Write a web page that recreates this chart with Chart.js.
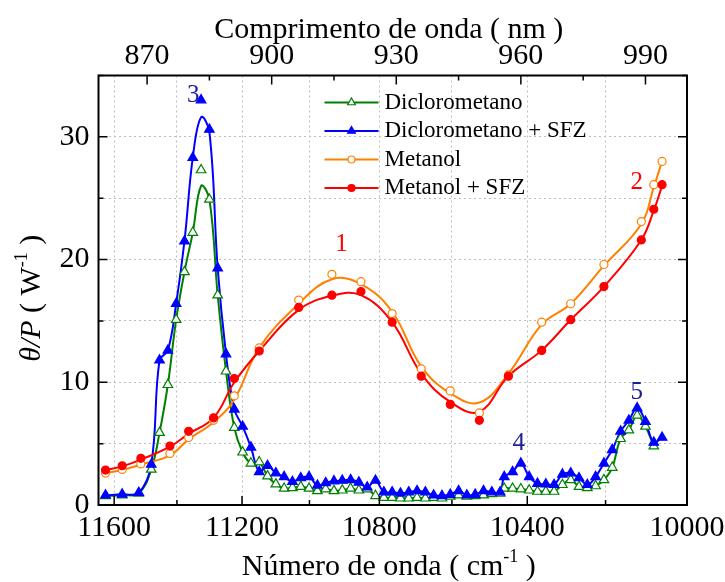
<!DOCTYPE html>
<html>
<head>
<meta charset="utf-8">
<script src="https://cdn.jsdelivr.net/npm/chart.js@4.4.1/dist/chart.umd.min.js"></script>
<style>
  html, body { margin: 0; padding: 0; background: #fff; }
</style>
</head>
<body>
<canvas id="spectra" width="725" height="582"></canvas>
<script>
// dichloromethane runs: wavelength grid (nm)
const dcmNm = [860, 864, 868,
  871, 873, 875, 877, 879, 881, 883, 885, 887, 889, 891, 893, 895, 897, 899, 901, 903, 905, 907, 909,
  911, 913, 915, 917, 919, 921, 923, 925, 927, 929, 931, 933, 935, 937, 939, 941, 943, 945, 947, 949,
  951, 953, 955,
  956, 958, 960, 962, 964, 966, 968, 970, 972, 974, 976, 978, 980, 982, 984, 986, 988, 990, 992, 994];

const dcm = [0.75, 0.8, 0.95,
  2.9, 5.9, 9.8, 15.1, 19.0, 22.2, 27.3, 24.9, 17.1, 10.9, 6.3, 4.3, 3.4, 3.5, 2.35, 1.7, 1.35, 1.4, 1.5, 1.35,
  1.15, 1.3, 1.15, 1.2, 1.35, 1.2, 1.3, 0.75, 0.6, 0.6, 0.55, 0.55, 0.6, 0.55, 0.6, 0.55, 0.7, 0.8, 0.7, 0.75,
  0.8, 0.9, 0.95,
  1.35, 1.35, 1.3, 1.2, 1.1, 1.1, 1.1, 1.65, 2.05, 1.5, 1.4, 1.55, 2.05, 3.05, 5.4, 6.1, 7.3, 6.4, 4.8];

const dcmCurve = [0.75, 0.8, 0.95,
  2.9, 5.9, 9.8, 15.1, 19.0, 22.2, 26.0, 24.9, 17.1, 10.9, 6.3, 4.3, 3.4, 3.5, 2.35, 1.7, 1.35, 1.4, 1.5, 1.35,
  1.15, 1.3, 1.15, 1.2, 1.35, 1.2, 1.3, 0.75, 0.6, 0.6, 0.55, 0.55, 0.6, 0.55, 0.6, 0.55, 0.7, 0.8, 0.7, 0.75,
  0.8, 0.9, 0.95,
  1.35, 1.35, 1.3, 1.2, 1.1, 1.1, 1.1, 1.65, 2.05, 1.5, 1.4, 1.55, 2.05, 3.05, 5.4, 6.1, 7.3, 6.4, 4.8];

const dcmSfz = [0.8, 0.87, 1.0,
  3.3, 11.8, 12.6, 16.4, 21.5, 28.3, 33.0, 30.6, 19.3, 12.3, 7.8, 6.4, 4.7, 2.7, 3.2, 2.6, 2.3, 1.9, 2.2, 2.3,
  1.6, 1.8, 1.95, 2.0, 2.05, 1.85, 1.45, 2.0, 1.05, 1.05, 0.95, 1.05, 1.15, 1.05, 0.8, 0.75, 0.85, 1.15, 0.8, 0.85,
  1.15, 1.05, 1.05,
  2.3, 2.7, 3.4, 2.3, 1.75, 1.7, 1.65, 2.5, 2.6, 2.2, 1.65, 2.3, 3.4, 4.5, 6.0, 6.9, 7.9, 6.8, 5.1, 5.5];

const dcmSfzCurve = [0.8, 0.87, 1.0,
  3.3, 11.8, 12.6, 16.4, 21.5, 28.3, 31.6, 30.4, 19.3, 12.3, 7.8, 6.4, 4.7, 2.7, 3.2, 2.6, 2.3, 1.9, 2.2, 2.3,
  1.6, 1.8, 1.95, 2.0, 2.05, 1.85, 1.45, 2.0, 1.05, 1.05, 0.95, 1.05, 1.15, 1.05, 0.8, 0.75, 0.85, 1.15, 0.8, 0.85,
  1.15, 1.05, 1.05,
  2.3, 2.7, 3.4, 2.3, 1.75, 1.7, 1.65, 2.5, 2.6, 2.2, 1.65, 2.3, 3.4, 4.5, 6.0, 6.9, 7.9, 6.8, 5.1, 5.5];

// methanol runs
const metNm = [860, 864, 868.5, 875.5, 880, 886, 891, 897, 906.5, 914.5, 921.5,
  929, 936, 943, 950, 957, 965, 972, 980, 989, 992, 994];
const met = [2.6, 2.9, 3.35, 4.2, 5.5, 6.9, 8.9, 12.8, 16.7, 18.8, 18.2,
  15.6, 11.1, 9.3, 7.5, 10.6, 14.9, 16.4, 19.6, 23.1, 26.1, 28.0];
const metCurve = [2.6, 2.85, 3.3, 4.05, 5.35, 6.75, 8.6, 12.8, 16.4, 18.4, 18.0,
  15.75, 11.3, 9.1, 8.35, 10.7, 14.7, 16.4, 19.5, 22.9, 25.9, 28.0];
const metSfz = [2.85, 3.2, 3.8, 4.8, 6.0, 7.1, 10.3, 12.55, 16.1, 17.1, 17.4,
  14.9, 10.5, 8.2, 6.9, 10.5, 12.6, 15.1, 17.8, 21.6, 24.1, 26.1];
const metSfzCurve = [2.85, 3.15, 3.7, 4.75, 5.8, 7.1, 10.0, 12.55, 15.9, 17.05, 17.1,
  14.9, 10.7, 8.4, 7.6, 10.5, 12.6, 15.1, 17.8, 21.6, 24.0, 26.0];

// axes
const nmMin = 858.3, nmMax = 1000;
const wnTicks = [11600, 11400, 11200, 11000, 10800, 10600, 10400, 10200, 10000];
const nmTicks = [870, 885, 900, 915, 930, 945, 960, 975, 990];
const yTicks = [0, 5, 10, 15, 20, 25, 30, 35];

const GREEN = '#008000', BLUE = '#0000ff', ORANGE = '#ff8000', RED = '#ff0000', NAVY = '#1c1c99';
const SERIF = '"Liberation Serif", "Times New Roman", serif';

const xy = (xs, ys) => ys.map((v, i) => ({ x: xs[i], y: v }));

function curve(data, color) {
    return {
        type: 'line', data, borderColor: color, borderWidth: 2,
        pointRadius: 0, tension: 0.4, fill: false, order: 2
    };
}

function marks(data, color, style, filled, r) {
    return {
        type: 'line', data, showLine: false, pointStyle: style, pointRadius: r,
        pointBorderColor: color, pointBackgroundColor: filled ? color : '#fff',
        pointBorderWidth: 1.2, order: 1
    };
}

// little helpers for the plugin
function drawMarker(ctx, style, x, y, r, color, filled) {
    ctx.beginPath();
    if (style === 'triangle') {
        ctx.moveTo(x, y - r);
        ctx.lineTo(x + r * 0.866, y + r * 0.5);
        ctx.lineTo(x - r * 0.866, y + r * 0.5);
        ctx.closePath();
    } else {
        ctx.arc(x, y, r, 0, Math.PI * 2);
    }
    ctx.fillStyle = filled ? color : '#fff';
    ctx.fill();
    ctx.lineWidth = 1.2;
    ctx.strokeStyle = color;
    ctx.stroke();
}

function richText(ctx, parts, cx, baseline) {
    let w = 0;
    parts.forEach(p => { ctx.font = p.font; w += ctx.measureText(p.t).width; });
    let x = cx - w / 2;
    parts.forEach(p => {
        ctx.font = p.font;
        ctx.fillText(p.t, x, baseline + (p.dy || 0));
        x += ctx.measureText(p.t).width;
    });
}

const legendRows = [
    { label: 'Diclorometano', color: GREEN, style: 'triangle', filled: false, r: 4.5 },
    { label: 'Diclorometano + SFZ', color: BLUE, style: 'triangle', filled: true, r: 4.5 },
    { label: 'Metanol', color: ORANGE, style: 'circle', filled: false, r: 3.5 },
    { label: 'Metanol + SFZ', color: RED, style: 'circle', filled: true, r: 3.5 }
];

const peakTags = [
    { t: '1', nm: 916.8, v: 21.2, color: RED },
    { t: '2', nm: 987.9, v: 26.3, color: RED },
    { t: '3', nm: 881.1, v: 33.4, color: NAVY },
    { t: '4', nm: 959.5, v: 5.0, color: NAVY },
    { t: '5', nm: 987.9, v: 9.2, color: NAVY }
];

const framePlugin = {
    id: 'frame',
    afterDraw(chart) {
        const { ctx, chartArea: a, scales } = chart;
        const xb = scales.x, xt = scales.xTop, y = scales.y;
        ctx.save();

        // inward tick marks on all four sides
        ctx.strokeStyle = '#000';
        ctx.lineWidth = 1.5;
        ctx.beginPath();
        wnTicks.forEach(w => {
            const px = xb.getPixelForValue(1e7 / w);
            const len = w % 400 === 0 ? 9 : 5;
            ctx.moveTo(px, a.bottom); ctx.lineTo(px, a.bottom - len);
        });
        nmTicks.forEach(n => {
            const px = xt.getPixelForValue(n);
            const len = n % 30 === 0 ? 9 : 5;
            ctx.moveTo(px, a.top); ctx.lineTo(px, a.top + len);
        });
        yTicks.forEach(v => {
            const py = y.getPixelForValue(v);
            const len = v % 10 === 0 ? 9 : 5;
            ctx.moveTo(a.left, py); ctx.lineTo(a.left + len, py);
            ctx.moveTo(a.right, py); ctx.lineTo(a.right - len, py);
        });
        ctx.stroke();
        ctx.lineWidth = 2;
        ctx.strokeRect(a.left, a.top, a.right - a.left, a.bottom - a.top);

        // axis titles
        ctx.fillStyle = '#000';
        ctx.textBaseline = 'alphabetic';
        ctx.textAlign = 'left';
        const big = '30px ' + SERIF, sup = '18px ' + SERIF;
        richText(ctx, [{ t: 'Número de onda ( cm', font: big }, { t: '-1', font: sup, dy: -13 }, { t: ' )', font: big }],
            (a.left + a.right) / 2 - 4, 575);
        richText(ctx, [{ t: 'Comprimento de onda ( nm )', font: big }], (a.left + a.right) / 2 - 4, 38);
        ctx.save();
        ctx.translate(40, (a.top + a.bottom) / 2 + 8);
        ctx.rotate(-Math.PI / 2);
        richText(ctx, [{ t: 'θ/P', font: 'italic ' + big }, { t: ' ( W', font: big },
            { t: '-1', font: sup, dy: -13 }, { t: ' )', font: big }], 0, 0);
        ctx.restore();

        // legend
        ctx.font = '23px ' + SERIF;
        ctx.textBaseline = 'middle';
        legendRows.forEach((row, i) => {
            const ly = a.top + 27 + i * 28.5;
            const lx = a.left + 226;
            ctx.strokeStyle = row.color;
            ctx.lineWidth = 2;
            ctx.beginPath(); ctx.moveTo(lx, ly); ctx.lineTo(lx + 54, ly); ctx.stroke();
            drawMarker(ctx, row.style, lx + 27, ly, row.r, row.color, row.filled);
            ctx.fillStyle = '#000';
            ctx.fillText(row.label, lx + 60, ly);
        });

        // peak numbers
        ctx.font = '25px ' + SERIF;
        ctx.textAlign = 'center';
        peakTags.forEach(p => {
            ctx.fillStyle = p.color;
            ctx.fillText(p.t, xb.getPixelForValue(p.nm), y.getPixelForValue(p.v));
        });
        ctx.restore();
    }
};

Chart.defaults.font.family = SERIF;
Chart.defaults.color = '#000';

new Chart(document.getElementById('spectra'), {
    type: 'line',
    data: {
        datasets: [
            curve(xy(metNm, metSfzCurve), RED),
            curve(xy(metNm, metCurve), ORANGE),
            curve(xy(dcmNm, dcmSfzCurve), BLUE),
            curve(xy(dcmNm, dcmCurve), GREEN),
            marks(xy(metNm, metSfz), RED, 'circle', true, 4),
            marks(xy(metNm, met), ORANGE, 'circle', false, 4),
            marks(xy(dcmNm, dcmSfz), BLUE, 'triangle', true, 5.5),
            marks(xy(dcmNm, dcm), GREEN, 'triangle', false, 5.5)
        ]
    },
    options: {
        responsive: false,
        animation: false,
        devicePixelRatio: 1,
        layout: { padding: { left: 0, right: 38, top: 0, bottom: 0 } },
        plugins: { legend: { display: false }, tooltip: { enabled: false } },
        scales: {
            x: {
                type: 'linear', position: 'bottom', min: nmMin, max: nmMax,
                afterBuildTicks: s => { s.ticks = wnTicks.map(w => ({ value: 1e7 / w })); },
                afterFit: s => { s.height = 77; s.paddingLeft = 0; s.paddingRight = 0; },
                ticks: {
                    autoSkip: false, maxRotation: 0, padding: 5, font: { size: 30 },
                    callback: v => { const w = Math.round(1e7 / v); return w % 400 === 0 ? String(w) : ''; }
                },
                grid: { color: '#bdbdbd', lineWidth: 1, drawTicks: false },
                border: { display: false, dash: [2, 3] }
            },
            xTop: {
                type: 'linear', position: 'top', min: nmMin, max: nmMax,
                afterBuildTicks: s => { s.ticks = nmTicks.map(n => ({ value: n })); },
                afterFit: s => { s.height = 75.5; s.paddingLeft = 0; s.paddingRight = 0; },
                ticks: {
                    autoSkip: false, maxRotation: 0, padding: 1, font: { size: 30 },
                    callback: v => (v % 30 === 0 ? String(v) : '')
                },
                grid: { display: false, drawTicks: false },
                border: { display: false }
            },
            y: {
                type: 'linear', position: 'left', min: 0, max: 35,
                afterBuildTicks: s => { s.ticks = yTicks.map(v => ({ value: v })); },
                afterFit: s => { s.width = 98.5; s.paddingTop = 0; s.paddingBottom = 0; },
                ticks: {
                    padding: 9, font: { size: 30 },
                    callback: v => (v % 10 === 0 && v < 35 ? String(v) : '')
                },
                grid: { color: '#bdbdbd', lineWidth: 1, drawTicks: false },
                border: { display: false, dash: [2, 3] }
            }
        }
    },
    plugins: [framePlugin]
});
</script>
</body>
</html>
